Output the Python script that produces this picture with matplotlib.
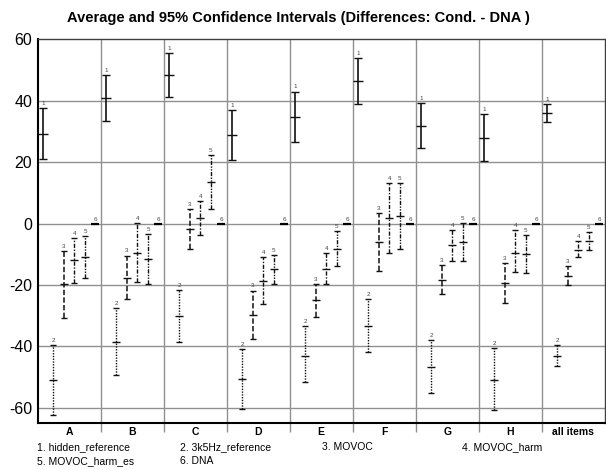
import matplotlib
matplotlib.use('Agg')
import matplotlib.pyplot as plt
import numpy as np

plt.rcParams['font.family'] = ['Liberation Sans', 'DejaVu Sans']

groups = ['A', 'B', 'C', 'D', 'E', 'F', 'G', 'H', 'all items']
names = ['hidden_reference', '3k5Hz_reference', 'MOVOC', 'MOVOC_harm', 'MOVOC_harm_es', 'DNA']

# mean, lower, upper per condition (rows = groups A..H, all items)
mean1 = [29.3, 41.0, 48.4, 28.7, 34.8, 46.4, 31.8, 28.0, 36.0]
low1 = [20.9, 33.5, 41.3, 20.6, 26.7, 38.9, 24.6, 20.3, 33.1]
high1 = [37.5, 48.3, 55.5, 36.9, 43.0, 54.0, 39.1, 35.7, 38.8]

mean2 = [-51.0, -38.5, -30.2, -50.6, -43.1, -33.3, -46.7, -50.8, -43.0]
low2 = [-62.3, -49.4, -38.6, -60.2, -51.6, -41.8, -55.3, -60.8, -46.5]
high2 = [-39.6, -27.6, -21.6, -40.8, -33.4, -24.6, -38.0, -40.5, -39.6]

mean3 = [-19.8, -17.6, -1.8, -29.8, -24.9, -6.0, -18.3, -19.2, -17.0]
low3 = [-30.7, -24.6, -8.3, -37.5, -30.3, -15.3, -22.8, -25.7, -20.1]
high3 = [-8.8, -10.4, 4.8, -21.8, -19.6, 3.3, -13.5, -12.7, -13.8]

mean4 = [-12.0, -9.5, 1.8, -18.7, -14.8, 1.9, -7.1, -9.5, -8.5]
low4 = [-19.3, -19.0, -3.6, -26.1, -19.7, -9.5, -12.2, -15.8, -11.0]
high4 = [-4.7, 0.1, 7.3, -10.9, -9.6, 13.1, -2.2, -2.0, -5.7]

mean5 = [-11.0, -11.4, 13.5, -14.9, -8.4, 2.5, -6.0, -9.8, -5.6]
low5 = [-17.6, -19.6, 4.8, -19.7, -13.9, -8.2, -12.2, -16.1, -8.7]
high5 = [-4.0, -3.3, 22.2, -10.1, -2.5, 13.1, 0.2, -3.6, -2.6]

mean6 = [0, 0, 0, 0, 0, 0, 0, 0, 0]
low6 = mean6
high6 = mean6

series = [(mean1, low1, high1), (mean2, low2, high2), (mean3, low3, high3),
          (mean4, low4, high4), (mean5, low5, high5), (mean6, low6, high6)]
styles = ['-', (0, (1, 1)), (0, (3.5, 1.5)), (0, (3, 1.2, 1, 1.2)), (0, (3, 1, 1, 1, 1, 1)), '-']
widths = [1.2, 1.0, 1.1, 1.0, 1.0, 1.0]

fig = plt.figure(figsize=(6.06, 4.70), dpi=100)
ax = fig.add_axes([0.0622, 0.0994, 0.9356, 0.817])

for i, (m, lo, hi) in enumerate(series):
    m = np.array(m, dtype=float)
    lo = np.array(lo, dtype=float)
    hi = np.array(hi, dtype=float)
    x = np.arange(len(groups)) + (i + 0.5) / 6
    if i < 5:
        cap = 2.8 if i == 0 else 2.0
        eb = ax.errorbar(x, m, yerr=[m - lo, hi - m], fmt='none', ecolor='#111111',
                         elinewidth=widths[i], capsize=cap, capthick=1.0, zorder=3)
        eb[2][0].set_linestyle(styles[i])
        ax.plot(x, m, linestyle='none', marker='_', ms=6.5 if i == 0 else 5.5,
                mew=1.0, color='#111111', zorder=4)
    else:
        ax.plot(x, m, linestyle='none', marker='_', ms=5.5, mew=1.6, color='black', zorder=4)
    for xx, hh in zip(x, hi):
        ax.annotate(str(i + 1), (xx, hh), xytext=(0, 1.5), textcoords='offset points',
                    ha='center', va='bottom', fontsize=4.5, color='#444444')

ax.set_xlim(0, len(groups))
ax.set_ylim(-65, 60)
ax.set_yticks([-60, -40, -20, 0, 20, 40, 60])
ax.set_yticklabels(['-60', '-40', '-20', '0', '20', '40', '60'], fontsize=11.5)
ax.tick_params(axis='y', length=0, pad=4)
ax.set_xticks(np.arange(len(groups)) + 0.5)
ax.set_xticklabels(groups, fontsize=7.5, fontweight='bold')
ax.tick_params(axis='x', which='major', length=0, pad=3)
ax.set_xticks(np.arange(1, len(groups)), minor=True)
ax.tick_params(axis='x', which='minor', length=6.5, width=1.0, color='#909090', direction='out')

for yy in [-60, -40, -20, 0, 20, 40]:
    ax.axhline(yy, color='#909090', lw=1.0, zorder=1)
for xx in range(1, len(groups)):
    ax.axvline(xx, color='#909090', lw=1.0, zorder=1)

ax.spines['left'].set_linewidth(1.5)
ax.spines['bottom'].set_linewidth(1.5)
ax.spines['top'].set_linewidth(1.0)
ax.spines['top'].set_color('#404040')
ax.spines['right'].set_linewidth(1.0)
ax.spines['right'].set_color('#404040')

fig.text(0.493, 0.961, 'Average and 95% Confidence Intervals (Differences: Cond. - DNA )',
         ha='center', va='center', fontsize=10.5, fontweight='bold')

leg_x = [37, 180, 322, 462, 37, 180]
leg_y = [447, 447, 447, 447, 461, 461]
for k, nm in enumerate(names):
    fig.text(leg_x[k] / 606, 1 - leg_y[k] / 470, '%d. %s' % (k + 1, nm),
             ha='left', va='center', fontsize=7.5)

fig.savefig('out.png', dpi=100)
